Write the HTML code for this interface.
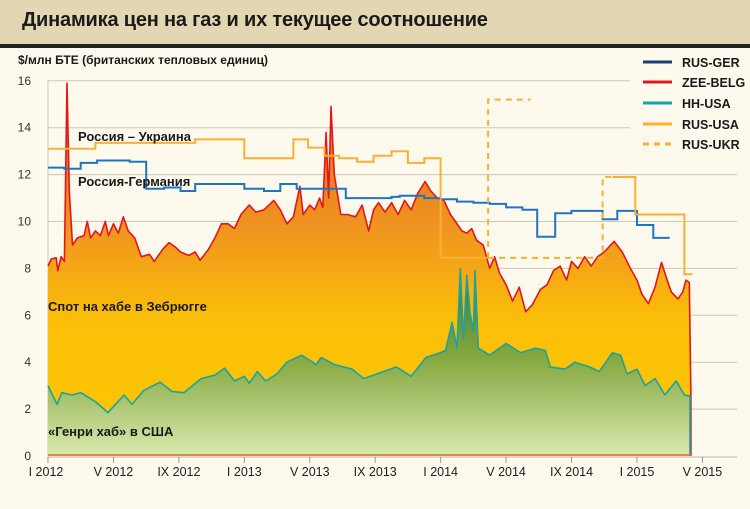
<!DOCTYPE html>
<html><head><meta charset="utf-8">
<style>
body{margin:0;background:#fdf9ec;}
#wrap{position:relative;width:750px;height:509px;overflow:hidden;background:#fdf9ec;font-family:"Liberation Sans","DejaVu Sans",sans-serif;}
#hdr{position:absolute;left:0;top:0;width:750px;height:44px;background:#e3d6b3;border-bottom:4px solid #222;}
#hdr h1{margin:0;position:absolute;left:22px;top:9px;font-size:20px;font-weight:bold;color:#1a1a1a;letter-spacing:-0.2px;}
svg{position:absolute;left:0;top:0;}
</style></head><body>
<div id="wrap">
<div id="hdr"><h1>Динамика цен на газ и их текущее соотношение</h1></div>
<svg id="chart" width="750" height="509"></svg>
</div>
<script>
// months since Jan 2012
const yTicks=[0,2,4,6,8,10,12,14,16];
const xTickMonths=[0,4,8,12,16,20,24,28,32,36,40];
const xTickLabels=["I 2012","V 2012","IX 2012","I 2013","V 2013","IX 2013","I 2014","V 2014","IX 2014","I 2015","V 2015"];
const gerT=[0,1.0,2.0,3.0,5.0,6.0,7.1,8.1,9.0,12.0,13.2,14.2,15.2,18.2,21,21.5,23,24,25,26,27,28,29,29.9,31,32,33.9,34.8,36,37];
const gerV=[12.3,12.25,12.5,12.6,12.55,11.4,11.45,11.3,11.6,11.4,11.3,11.6,11.4,11.0,11.05,11.1,11.0,10.95,10.85,10.8,10.75,10.6,10.5,9.35,10.35,10.45,10.1,10.45,9.85,9.3];
const gerEnd=38;
const usaT1=[0,2.9,9,12,15,15.9,16.9,17.8,18.9,19.9,21,22,23,24];
const usaV1=[13.1,13.35,13.5,12.7,13.5,13.15,12.8,12.7,12.55,12.8,13.0,12.5,12.7,8.45];
const usaEnd1=26.9;
const usaT2=[34.5,35.9,38.9];
const usaV2=[11.9,10.3,7.75];
const usaEnd2=39.4;
const ukrT1=[26.9,29.5];
const ukrV1=[15.2,15.2];
const ukrStart1=8.45;
const ukrT2=[26.9,33.9,34.5];
const ukrV2=[8.45,11.9,11.9];
const zeeT=[0,0.2,0.5,0.6,0.8,1.0,1.16,1.3,1.5,1.8,2.2,2.4,2.6,2.9,3.2,3.5,3.7,4.0,4.3,4.6,4.9,5.3,5.7,6.2,6.5,7.0,7.4,7.8,8.1,8.6,9.0,9.3,9.8,10.2,10.6,11.0,11.4,11.8,12.3,12.7,13.2,13.8,14.2,14.6,15.0,15.4,15.6,16.0,16.3,16.6,16.8,17.0,17.15,17.3,17.5,17.9,18.3,18.8,19.2,19.6,19.9,20.2,20.6,21,21.4,21.8,22.2,22.6,23.05,23.4,23.8,24.2,24.6,24.9,25.3,25.6,25.9,26.2,26.6,27.0,27.3,27.6,28.0,28.4,28.8,29.2,29.6,30.1,30.5,30.9,31.3,31.7,32.0,32.4,32.8,33.2,33.6,34.0,34.6,35.1,35.6,36.0,36.3,36.7,37.1,37.5,37.8,38.1,38.5,38.8,39.0,39.2,39.3];
const zeeV=[8.1,8.4,8.45,7.9,8.5,8.3,15.9,11.3,9.0,9.3,9.4,10.0,9.3,9.6,9.4,10.0,9.4,9.9,9.5,10.2,9.6,9.3,8.5,8.6,8.3,8.8,9.1,8.9,8.7,8.55,8.7,8.35,8.8,9.3,9.9,9.9,9.7,10.3,10.7,10.4,10.5,10.9,10.5,9.9,10.2,11.5,10.3,10.7,10.5,11.0,10.6,13.8,11.0,14.9,12.0,10.3,10.3,10.2,10.7,9.6,10.5,10.8,10.4,10.8,10.3,10.9,10.5,11.2,11.7,11.3,11.0,10.9,10.3,10.0,9.6,9.5,9.7,9.2,9.0,8.0,8.5,7.8,7.3,6.6,7.2,6.15,6.45,7.1,7.3,7.9,8.1,7.5,8.3,8.0,8.5,8.1,8.5,8.7,9.15,8.7,8.0,7.5,6.9,6.5,7.2,8.25,7.6,7.0,6.7,7.0,7.5,7.4,2.6];
const hhT=[0,0.55,0.85,1.47,2.02,2.93,3.67,3.79,4.65,5.13,5.87,6.85,7.58,8.31,9.35,10.2,10.8,11.4,12.0,12.3,12.8,13.3,14.0,14.6,15.5,16.4,16.7,17.5,18.6,19.3,20.5,21.3,22.2,23.1,23.96,24.3,24.7,25.0,25.2,25.4,25.6,25.8,26.0,26.1,26.3,27.0,27.6,28.0,28.9,29.8,30.4,30.7,31.6,32.2,33.1,33.7,34.5,35.0,35.4,36.0,36.5,37.1,37.7,38.4,38.9,39.24];
const hhV=[3.0,2.2,2.7,2.6,2.7,2.3,1.85,1.95,2.6,2.2,2.8,3.15,2.75,2.7,3.3,3.45,3.75,3.2,3.4,3.1,3.6,3.2,3.5,4.0,4.3,3.9,4.2,3.9,3.7,3.3,3.6,3.8,3.4,4.2,4.4,4.5,5.7,4.6,8.0,5.0,7.7,6.1,5.3,7.9,4.6,4.3,4.6,4.8,4.4,4.6,4.5,3.8,3.7,4.0,3.8,3.6,4.4,4.3,3.5,3.7,3.0,3.3,2.6,3.2,2.6,2.55];

const NS="http://www.w3.org/2000/svg";
const svg=document.getElementById('chart');
const X=t=>48+t*16.36;
const Y=v=>456-v*23.45;
function mk(tag,at,parent){const e=document.createElementNS(NS,tag);for(const k in at)e.setAttribute(k,at[k]);(parent||svg).appendChild(e);return e;}

const defs=mk('defs',{});
defs.innerHTML='<linearGradient id="gO" gradientUnits="userSpaceOnUse" x1="0" y1="100" x2="0" y2="456"><stop offset="0" stop-color="#e26a1e"/><stop offset="0.35" stop-color="#ef9320"/><stop offset="0.62" stop-color="#fbbf08"/><stop offset="1" stop-color="#fdc800"/></linearGradient><linearGradient id="gG" gradientUnits="userSpaceOnUse" x1="0" y1="280" x2="0" y2="456"><stop offset="0" stop-color="#4a7d2a"/><stop offset="0.45" stop-color="#86a940"/><stop offset="1" stop-color="#d9e9ae"/></linearGradient>';

yTicks.forEach(v=>{
  if(v!==0){
    const g=mk('line',{x1:48,x2:v>=14?630:737,y1:Y(v),y2:Y(v),stroke:'#cfc7b3','stroke-width':1});
    
    
  }
  const t=mk('text',{x:31,y:Y(v)+4,'text-anchor':'end','font-size':12,fill:'#333'});
  t.textContent=v;
  
  
});
mk('line',{x1:48,x2:48,y1:80,y2:458,stroke:'#cfc7b3','stroke-width':1});

function area(T,V,fill){
  let d='M'+X(T[0])+','+Y(0);
  T.forEach((t,i)=>d+=' L'+X(t).toFixed(1)+','+Y(V[i]).toFixed(1));
  d+=' L'+X(T[T.length-1]).toFixed(1)+','+Y(0)+' Z';
  return mk('path',{d:d,fill:fill,stroke:'none'});
}
function line(T,V,col,w){
  let d='';
  T.forEach((t,i)=>d+=(i?' L':'M')+X(t).toFixed(1)+','+Y(V[i]).toFixed(1));
  return mk('path',{d:d,fill:'none',stroke:col,'stroke-width':w,'stroke-linejoin':'round'});
}
function step(T,V,end,col,w,dash,startV){
  let d='';
  if(startV!==undefined)d='M'+X(T[0])+','+Y(startV)+' L'+X(T[0])+','+Y(V[0]);
  else d='M'+X(T[0])+','+Y(V[0]);
  for(let i=1;i<T.length;i++){d+=' L'+X(T[i]).toFixed(1)+','+Y(V[i-1]).toFixed(1)+' L'+X(T[i]).toFixed(1)+','+Y(V[i]).toFixed(1);}
  if(end!==null)d+=' L'+X(end).toFixed(1)+','+Y(V[V.length-1]).toFixed(1);
  const a={d:d,fill:'none',stroke:col,'stroke-width':w};
  if(dash)a['stroke-dasharray']=dash;
  return mk('path',a);
}

const za=area(zeeT,zeeV,'url(#gO)');


const ha=area(hhT,hhV,'url(#gG)');


const zl=line(zeeT.concat([39.3]),zeeV.concat([0]),'#e3161b',1.6);


const hl=line(hhT.concat([39.24]),hhV.concat([0]),'#1aa3a3',1.6);



const gl=step(gerT,gerV,gerEnd,'#1f74c4',2);


const u1=step(usaT1,usaV1,usaEnd1,'#fbb034',2);


const u2=step(usaT2,usaV2,usaEnd2,'#fbb034',2);


const k1=step(ukrT1,ukrV1,null,'#fbb034',2,'6,5',ukrStart1);


const k2=step(ukrT2,ukrV2,null,'#fbb034',2,'6,5');



mk('line',{x1:48,x2:691,y1:455,y2:455,stroke:'#e06a2a','stroke-width':1.5});
mk('line',{x1:48,x2:737,y1:457,y2:457,stroke:'#bbb','stroke-width':1});
xTickMonths.forEach((m,i)=>{
  mk('line',{x1:X(m),x2:X(m),y1:457,y2:463,stroke:'#999','stroke-width':1});
  const t=mk('text',{x:X(m)-(i===0?2:0),y:476,'text-anchor':'middle','font-size':12.5,fill:'#222'});
  t.textContent=xTickLabels[i];
  
  
});

function label(x,y,txt,name,size,w){
  const t=mk('text',{x:x,y:y,'font-size':size||13,'font-weight':w||'bold',fill:'#1a1a1a'});
  t.textContent=txt;
  
  
}
label(18,64,'$/млн БТЕ (британских тепловых единиц)','y-axis-title',12);
label(78,141,'Россия – Украина','label-russia-ukraine',13);
label(78,186,'Россия-Германия','label-russia-germany',13);
label(48,311,'Спот на хабе в Зебрюгге','label-zeebrugge',13);
label(48,436,'«Генри хаб» в США','label-henry-hub',13);

const leg=[['RUS-GER','#1a3e6e',''],['ZEE-BELG','#e3161b',''],['HH-USA','#1aa3a3',''],['RUS-USA','#fbb034',''],['RUS-UKR','#fbb034','6,5']];
const legY=[62,82,103,124,144];
leg.forEach((l,i)=>{
  const a={x1:643,x2:672,y1:legY[i],y2:legY[i],stroke:l[1],'stroke-width':3};
  if(l[2])a['stroke-dasharray']=l[2];
  const ln=mk('line',a);
  
  
  const t=mk('text',{x:682,y:legY[i]+5,'font-size':12.5,'font-weight':'bold',fill:'#1a1a1a'});
  t.textContent=l[0];
  
  
});
</script>
</body></html>
